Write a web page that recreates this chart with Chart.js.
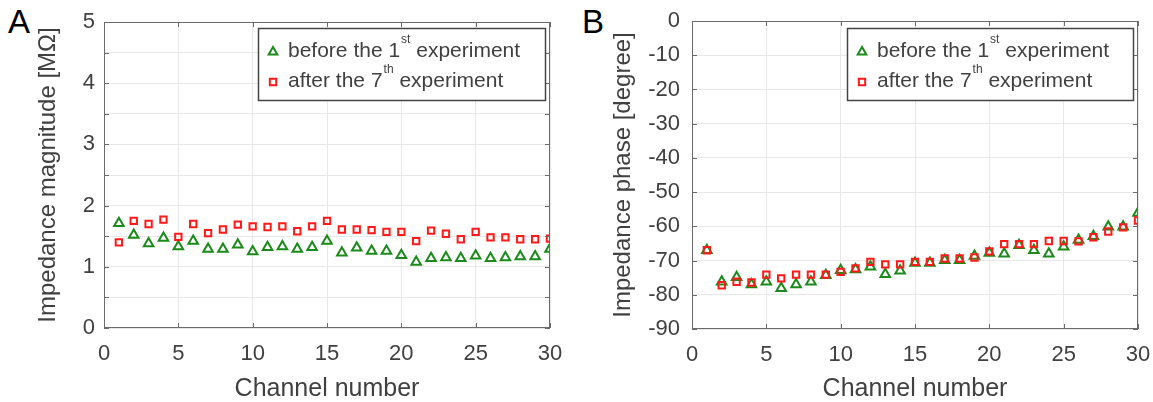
<!DOCTYPE html>
<html>
<head>
<meta charset="utf-8">
<script src="https://cdn.jsdelivr.net/npm/chart.js@4.4.1/dist/chart.umd.min.js"></script>
<style>
  body { margin: 0; background: #fff; width: 1153px; height: 402px; overflow: hidden; position: relative;
         font-family: "Liberation Sans", Arial, sans-serif; }
  .panel { position: absolute; top: 0; height: 402px; }
  #boxA { left: 0; width: 575px; }
  #boxB { left: 580px; width: 573px; }
  .tag { position: absolute; font-size: 33px; line-height: 33px; color: #000; }
</style>
</head>
<body>
<div class="tag" style="left:8px;top:5px">A</div>
<div class="tag" style="left:582px;top:5px">B</div>
<div class="panel" id="boxA"><canvas id="chartA"></canvas></div>
<div class="panel" id="boxB"><canvas id="chartB"></canvas></div>
<script>
// channel numbers on the x axis
const channels = [1, 2, 3, 4, 5, 6, 7, 8, 9, 10, 11, 12, 13, 14, 15,
                  16, 17, 18, 19, 20, 21, 22, 23, 24, 25, 26, 27, 28, 29, 30];

// impedance magnitude [MOhm]
const magBefore = [1.71, 1.52, 1.38, 1.47, 1.33, 1.42, 1.29, 1.29, 1.36, 1.25, 1.32, 1.33, 1.29, 1.32, 1.42,
                   1.23, 1.31, 1.26, 1.26, 1.19, 1.08, 1.14, 1.15, 1.14, 1.18, 1.14, 1.15, 1.17, 1.17, 1.29];
const magAfter  = [1.40, 1.75, 1.70, 1.77, 1.49, 1.70, 1.55, 1.61, 1.69, 1.66, 1.65, 1.66, 1.58, 1.66, 1.75,
                   1.61, 1.61, 1.60, 1.57, 1.57, 1.42, 1.59, 1.54, 1.45, 1.57, 1.48, 1.48, 1.45, 1.45, 1.46];

// impedance phase [degree]
const phaseBefore = [-67.0, -76.2, -74.9, -77.0, -76.2, -78.1, -77.0, -76.2, -74.3, -72.8, -72.6, -71.8, -74.0, -73.0, -70.7,
                     -70.7, -69.9, -69.9, -68.7, -67.8, -68.0, -65.5, -67.0, -68.0, -66.0, -64.0, -62.9, -60.1, -60.1, -56.1];
const phaseAfter  = [-67.0, -77.2, -76.2, -76.4, -74.1, -75.2, -74.1, -74.1, -74.1, -73.3, -72.3, -70.4, -71.1, -71.1, -70.4,
                     -70.4, -69.4, -69.4, -69.1, -67.3, -65.2, -65.2, -65.2, -64.3, -64.3, -64.4, -63.2, -61.5, -60.3, -58.3];

const FONT = '"Liberation Sans", Arial, sans-serif';
const TXT = '#404040';
const GREEN = '#1b8a1b';
const RED = '#ff1a1a';

// box, inward ticks and legend (legend needs superscripts)
const framePlugin = {
    id: 'frame',
    afterDraw(chart, args, opts) {
        const { ctx, chartArea: a, scales } = chart;
        ctx.save();
        ctx.strokeStyle = '#6a6a6a';
        ctx.lineWidth = 1;
        ctx.strokeRect(a.left + 0.5, a.top + 0.5, a.right - a.left - 1, a.bottom - a.top - 1);

        const tl = 5;
        ctx.beginPath();
        scales.x.ticks.forEach(t => {
            const px = Math.round(scales.x.getPixelForValue(t.value)) + 0.5;
            ctx.moveTo(px, a.bottom); ctx.lineTo(px, a.bottom - tl);
            ctx.moveTo(px, a.top); ctx.lineTo(px, a.top + tl);
        });
        scales.y.ticks.forEach(t => {
            const py = Math.round(scales.y.getPixelForValue(t.value)) + 0.5;
            ctx.moveTo(a.left, py); ctx.lineTo(a.left + tl, py);
            ctx.moveTo(a.right, py); ctx.lineTo(a.right - tl, py);
        });
        ctx.stroke();

        // legend
        const b = opts.box;
        ctx.fillStyle = '#fff';
        ctx.fillRect(b.x, b.y, b.w, b.h);
        ctx.strokeStyle = '#444';
        ctx.lineWidth = 1.5;
        ctx.strokeRect(b.x + 0.5, b.y + 0.5, b.w, b.h);

        const rows = [
            { style: 'triangle', color: GREEN, r: 5, parts: ['before the 1', 'st', ' experiment'] },
            { style: 'rect', color: RED, r: 4.5, parts: ['after the 7', 'th', ' experiment'] }
        ];
        rows.forEach((row, i) => {
            const cy = b.y + 23 + i * 30;
            ctx.strokeStyle = row.color;
            ctx.fillStyle = 'rgba(0,0,0,0)';
            ctx.lineWidth = 2;
            Chart.helpers.drawPoint(ctx, { pointStyle: row.style, radius: row.r, borderWidth: 2 }, b.x + 15, cy + 1);
            ctx.fillStyle = TXT;
            ctx.textBaseline = 'middle';
            ctx.textAlign = 'left';
            let x = b.x + 30;
            ctx.font = '21px ' + FONT;
            ctx.fillText(row.parts[0], x, cy);
            x += ctx.measureText(row.parts[0]).width + 1;
            ctx.font = '12px ' + FONT;
            ctx.fillText(row.parts[1], x, cy - 11);
            x += ctx.measureText(row.parts[1]).width;
            ctx.font = '21px ' + FONT;
            ctx.fillText(row.parts[2], x, cy);
        });
        ctx.restore();
    }
};

function makeChart(id, before, after, yOpts, box, pad, yWidth, xHeight, yTitle) {
    const ctx = document.getElementById(id).getContext('2d');
    return new Chart(ctx, {
        type: 'scatter',
        data: {
            datasets: [
                {
                    label: 'after',
                    data: channels.map((c, i) => ({ x: c, y: after[i] })),
                    pointStyle: 'rect',
                    pointRadius: 4.5,
                    pointBorderWidth: 2,
                    borderColor: RED,
                    backgroundColor: 'rgba(0,0,0,0)',
                    order: 1
                },
                {
                    label: 'before',
                    data: channels.map((c, i) => ({ x: c, y: before[i] })),
                    pointStyle: 'triangle',
                    pointRadius: 5.5,
                    pointBorderWidth: 2,
                    borderColor: GREEN,
                    backgroundColor: 'rgba(0,0,0,0)',
                    order: 2
                }
            ]
        },
        options: {
            responsive: true,
            maintainAspectRatio: false,
            animation: false,
            layout: { padding: pad },
            plugins: {
                legend: { display: false },
                tooltip: { enabled: false },
                frame: { box: box }
            },
            scales: {
                x: {
                    type: 'linear', min: 0, max: 30,
                    ticks: { stepSize: 5, color: TXT, font: { family: FONT, size: 22 }, padding: 0, maxRotation: 0 },
                    // invisible tick marks only push the labels away from the axis
                    grid: { color: '#e8e8e8', drawTicks: true, tickLength: 13, tickColor: 'rgba(0,0,0,0)' },
                    border: { display: false },
                    title: { display: true, text: 'Channel number', color: TXT,
                             font: { family: FONT, size: 25, lineHeight: 1 }, padding: { top: 0, bottom: 0 } },
                    afterFit(s) { s.height = xHeight; }
                },
                y: {
                    min: yOpts.min, max: yOpts.max,
                    ticks: { stepSize: yOpts.step, color: TXT, font: { family: FONT, size: 22 }, padding: 0,
                             callback: yOpts.label },
                    grid: { color: '#e8e8e8', drawTicks: true, tickLength: yOpts.tickPad, tickColor: 'rgba(0,0,0,0)' },
                    border: { display: false },
                    title: { display: true, text: yTitle, color: TXT,
                             font: { family: FONT, size: 24, lineHeight: 1 }, padding: { top: yOpts.titlePad, bottom: 0 } },
                    afterFit(s) { s.width = yWidth; }
                }
            }
        },
        plugins: [framePlugin]
    });
}

makeChart('chartA', magBefore, magAfter,
    { min: 0, max: 5, step: 0.5, titlePad: 36, tickPad: 9, label: v => Number.isInteger(v) ? v : '' },
    { x: 258, y: 28, w: 287, h: 72 },
    { left: 0, top: 22, right: 25, bottom: 0 }, 104, 74,
    'Impedance magnitude [MΩ]');

makeChart('chartB', phaseBefore, phaseAfter,
    { min: -90, max: 0, step: 10, titlePad: 31, tickPad: 12, label: v => v },
    { x: 267, y: 28, w: 286, h: 72 },
    { left: 0, top: 21, right: 15, bottom: 0 }, 112, 73,
    'Impedance phase [degree]');
</script>
</body>
</html>
